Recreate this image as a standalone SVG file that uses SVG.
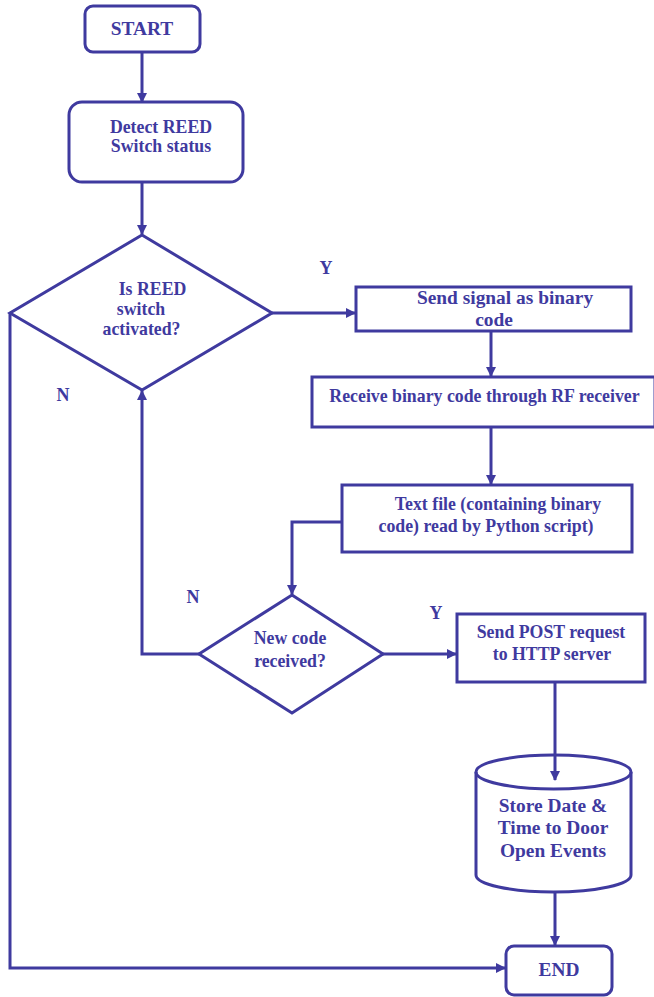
<svg xmlns="http://www.w3.org/2000/svg" width="654" height="997" viewBox="0 0 654 997">
<defs>
<style>
.s{fill:#fff;stroke:#3f3a9f;stroke-width:3}
.c{fill:none;stroke:#3f3a9f;stroke-width:3}
text{font-family:"Liberation Serif","Times New Roman",serif;font-weight:bold;fill:#3f3a9f;font-size:17.8px;text-anchor:middle}
.l{font-size:18px}
.b{font-size:19.4px}
</style>
<marker id="a" markerWidth="10" markerHeight="10" refX="9" refY="5" orient="auto" markerUnits="userSpaceOnUse" viewBox="0 0 10 10">
<path d="M0,0 L10,5 L0,10 z" fill="#3f3a9f"/>
</marker>
</defs>
<rect width="654" height="997" fill="#fff"/>
<g id="start">
<rect class="s" x="85" y="6" width="115" height="46" rx="8"/>
<text class="b" x="142" y="35">START</text>
</g>
<g id="detect">
<rect class="s" x="69" y="102" width="174" height="80" rx="13"/>
<text x="161" y="133">Detect REED</text>
<text x="161" y="152">Switch status</text>
</g>
<g id="decision1">
<polygon class="s" points="142,235 272,313 142,390 10,313"/>
<text x="152.5" y="295">Is REED</text>
<text x="141" y="315">switch</text>
<text x="141.5" y="335">activated?</text>
</g>
<g id="send-signal">
<rect class="s" x="356" y="287" width="275" height="44"/>
<text class="b" x="505" y="304">Send signal as binary</text>
<text class="b" x="494" y="326">code</text>
</g>
<g id="receive">
<rect class="s" x="312" y="377" width="343" height="50"/>
<text x="484.5" y="402">Receive binary code through RF receiver</text>
</g>
<g id="textfile">
<rect class="s" x="342" y="485" width="290" height="67"/>
<text x="498" y="510">Text file (containing binary</text>
<text x="486" y="532">code) read by Python script)</text>
</g>
<g id="decision2">
<polygon class="s" points="292,595 383,654 292,713 199,654"/>
<text x="290" y="644">New code</text>
<text x="290" y="667">received?</text>
</g>
<g id="post">
<rect class="s" x="457" y="614" width="188" height="68"/>
<text x="551" y="638">Send POST request</text>
<text x="552" y="660">to HTTP server</text>
</g>
<g id="store">
<path class="s" d="M476,772 A77.5,17 0 0 1 631,772 L631,875 A77.5,17 0 0 1 476,875 Z"/>
<path class="c" d="M476,772 A77.5,17 0 0 0 631,772"/>
<text class="b" x="553" y="812">Store Date &amp;</text>
<text class="b" x="553" y="834">Time to Door</text>
<text class="b" x="553" y="857">Open Events</text>
</g>
<g id="end">
<rect class="s" x="506" y="946" width="106" height="49" rx="8"/>
<text class="b" x="559" y="976">END</text>
</g>
<g id="connectors">
<line class="c" x1="142" y1="53" x2="142" y2="102" marker-end="url(#a)"/>
<line class="c" x1="142" y1="182" x2="142" y2="234" marker-end="url(#a)"/>
<line class="c" x1="272" y1="313" x2="355" y2="313" marker-end="url(#a)"/>
<line class="c" x1="491" y1="331" x2="491" y2="376" marker-end="url(#a)"/>
<line class="c" x1="491" y1="427" x2="491" y2="484" marker-end="url(#a)"/>
<polyline class="c" points="342,522 292,522 292,594" marker-end="url(#a)"/>
<polyline class="c" points="199,654 142,654 142,391" marker-end="url(#a)"/>
<line class="c" x1="383" y1="654" x2="456" y2="654" marker-end="url(#a)"/>
<line class="c" x1="555" y1="682" x2="555" y2="780" marker-end="url(#a)"/>
<line class="c" x1="555" y1="892" x2="555" y2="945" marker-end="url(#a)"/>
<polyline class="c" points="10,313 10,968 505,968" marker-end="url(#a)"/>
<text class="l" x="326" y="274">Y</text>
<text class="l" x="63" y="401">N</text>
<text class="l" x="193" y="603">N</text>
<text class="l" x="436" y="619">Y</text>
</g>
</svg>
